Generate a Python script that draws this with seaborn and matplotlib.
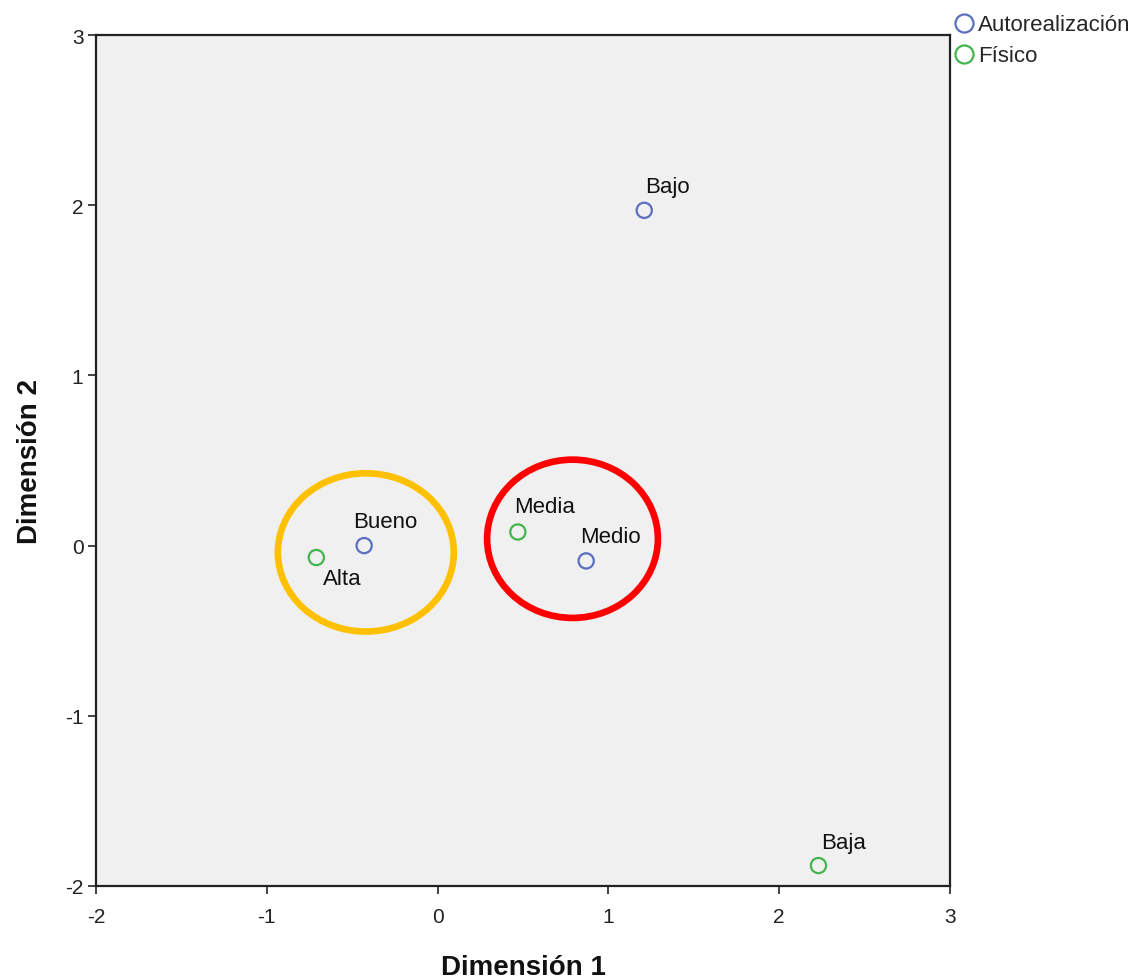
import matplotlib
matplotlib.use("Agg")
import matplotlib.pyplot as plt
from matplotlib.patches import Ellipse
from matplotlib.lines import Line2D
import seaborn as sns
import pandas as pd

# category points (dimension 1, dimension 2)
labels = ["Bajo", "Bueno", "Medio", "Alta", "Media", "Baja"]
groups = ["Autorealización", "Autorealización", "Autorealización", "Físico", "Físico", "Físico"]
dim1 = [1.21, -0.43, 0.87, -0.71, 0.47, 2.23]
dim2 = [1.97, 0.00, -0.09, -0.07, 0.08, -1.88]

# highlighted clusters drawn on top (center x, center y, width, height)
ellipse_centers = [(-0.42, -0.04), (0.79, 0.04)]
ellipse_sizes = [(1.03, 0.93), (1.00, 0.93)]
ellipse_colors = ["#FFC000", "#FF0000"]

palette = {"Autorealización": "#5A6FC0", "Físico": "#43B54E"}
# label offsets in pixels from the point (left edge, vertical center)
label_offsets = {"Bajo": (1, 24), "Bueno": (-11, 24), "Medio": (-6, 24),
                 "Alta": (7, -21), "Media": (-4, 25), "Baja": (3, 23)}

df = pd.DataFrame({"label": labels, "grupo": groups, "d1": dim1, "d2": dim2})

sns.set_style("ticks")
plt.rcParams["font.family"] = ["Liberation Sans", "DejaVu Sans"]
plt.rcParams["axes.unicode_minus"] = False

fig = plt.figure(figsize=(11.4, 9.79), dpi=100)
ax = fig.add_axes([0.0842, 0.0940, 0.7491, 0.8692])
ax.set_facecolor("#F0F0F0")

sns.scatterplot(data=df, x="d1", y="d2", hue="grupo", palette=palette, s=120,
                linewidth=1.6, legend=False, ax=ax, zorder=3)
coll = ax.collections[0]
coll.set_edgecolors(coll.get_facecolors())
coll.set_facecolors("none")

for lab, x, y in zip(labels, dim1, dim2):
    dx, dy = label_offsets[lab]
    ax.annotate(lab, (x, y), xytext=(dx, dy), textcoords="offset pixels",
                ha="left", va="center", fontsize=16, color="#111111")

for (cx, cy), (w, h), col in zip(ellipse_centers, ellipse_sizes, ellipse_colors):
    ax.add_patch(Ellipse((cx, cy), w, h, fill=False, edgecolor=col, linewidth=4.8, zorder=4))

ax.set_xlim(-2, 3)
ax.set_ylim(-2, 3)
ax.set_xticks([-2, -1, 0, 1, 2, 3])
ax.set_yticks([-2, -1, 0, 1, 2, 3])
ax.tick_params(direction="out", length=6, width=1.2, labelsize=15, colors="#222222", pad=3)
ax.tick_params(axis="x", pad=9)
for sp in ax.spines.values():
    sp.set_linewidth(1.6)
    sp.set_color("#222222")

ax.set_xlabel("Dimensión 1", fontsize=20, fontweight="bold", labelpad=20, color="#111111")
ax.set_ylabel("Dimensión 2", fontsize=20, fontweight="bold", labelpad=16, color="#111111")

handles = [Line2D([], [], marker="o", linestyle="", markersize=13, markerfacecolor="none",
                  markeredgecolor=palette[g], markeredgewidth=1.6, label=g) for g in palette]
fig.legend(handles=handles, loc="upper left", bbox_to_anchor=(0.826, 0.998), frameon=False,
           fontsize=16, handlelength=0.8, handletextpad=0.25, labelspacing=0.45,
           borderaxespad=0.3, borderpad=0.3)

fig.savefig("out.png", dpi=100)
